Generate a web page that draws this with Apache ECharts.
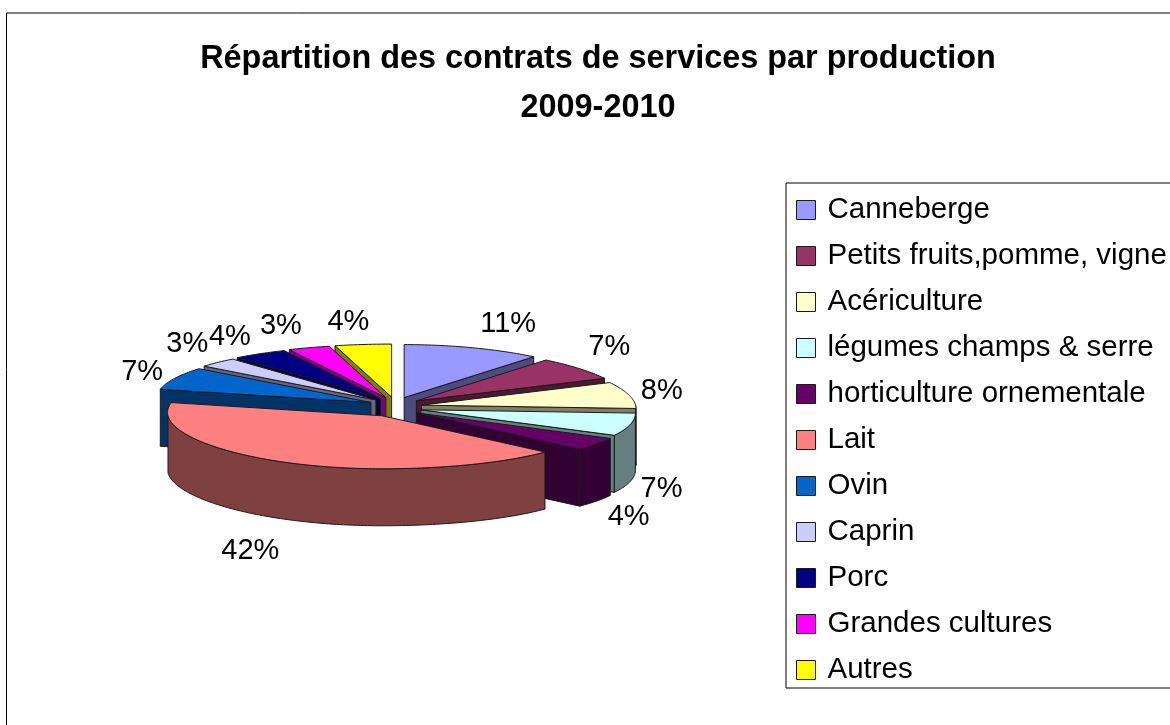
<!DOCTYPE html>
<html>
<head>
    <meta charset="UTF-8">
    <title>Répartition des contrats de services par production</title>
    <style>
        html, body { margin: 0; padding: 0; background: #fff; }
        #main { width: 1170px; height: 725px; }
    </style>
    <script src="https://cdn.jsdelivr.net/npm/echarts@6/dist/echarts.min.js"></script>
</head>
<body>
<div id="main"></div>
<script type="text/javascript">
    var titleLines = ['Répartition des contrats de services par production', '2009-2010'];
    var categories = ['Canneberge', 'Petits fruits,pomme, vigne', 'Acériculture', 'légumes champs & serre',
        'horticulture ornementale', 'Lait', 'Ovin', 'Caprin', 'Porc', 'Grandes cultures', 'Autres'];
    var percents = [11, 7, 8, 7, 4, 42, 7, 3, 4, 3, 4];
    var topColors = ['#9999FF', '#993366', '#FFFFCC', '#CCFFFF', '#660066', '#FF8080',
        '#0066CC', '#CCCCFF', '#000080', '#FF00FF', '#FFFF00'];
    var sideColors = ['#4C4C7F', '#4C1933', '#7F7F66', '#667F7F', '#330033', '#7F4040',
        '#003366', '#66667F', '#000040', '#7F007F', '#7F7F00'];

    // 饼图的几何参数
    var cx = 395, cy = 407;
    var rx = 214, ry = 53;
    var depth = 57;
    var explodeX = 27, explodeY = 10;
    var skew = 14; // 后方向左、前方向右的透视偏移
    // 标签沿半径放置，再按需要微调
    var labelRadius = 1.2;
    var labelNudge = [[17, -14], [-10, -15], [-12, -2], [-6, 61], [4, 67], [-8, 80],
        [0, -2], [-7, -11], [-13, -8], [-18, -12], [-11, -12]];

    var total = percents.reduce(function (a, b) { return a + b; }, 0);
    var starts = [];
    var sum = 0;
    percents.forEach(function (v) {
        starts.push(sum / total * 360);
        sum += v;
    });

    function rad(d) { return d * Math.PI / 180; }

    function point(ox, oy, deg) {
        var s = Math.sin(rad(deg)), c = Math.cos(rad(deg));
        return [ox + rx * s - skew * c * Math.abs(s), oy - ry * c];
    }

    function arc(ox, oy, from, to) {
        var pts = [];
        var n = Math.max(1, Math.ceil(Math.abs(to - from)));
        for (var i = 0; i <= n; i++) {
            pts.push(point(ox, oy, from + (to - from) * i / n));
        }
        return pts;
    }

    function face(points, fill) {
        return {
            type: 'polygon',
            shape: { points: points },
            style: { fill: fill, stroke: '#1a1a1a', lineWidth: 1, lineJoin: 'round' }
        };
    }

    function wall(a, b, fill) {
        return face([a, b, [b[0], b[1] + depth], [a[0], a[1] + depth]], fill);
    }

    function renderSlice(index) {
        var from = starts[index];
        var to = from + percents[index] / total * 360;
        var mid = (from + to) / 2;
        var ox = cx + explodeX * Math.sin(rad(mid));
        var oy = cy - explodeY * Math.cos(rad(mid));
        var apex = [ox, oy];
        var side = sideColors[index];
        var children = [];

        // 切面
        if (from > 180) {
            children.push(wall(apex, point(ox, oy, from), side));
        }
        if (to < 180) {
            children.push(wall(apex, point(ox, oy, to), side));
        }
        // 外弧面，只有朝前的部分可见
        var a0 = Math.max(from, 90), a1 = Math.min(to, 270);
        if (a1 > a0) {
            var upper = arc(ox, oy, a0, a1);
            var lower = arc(ox, oy + depth, a1, a0);
            children.push(face(upper.concat(lower), side));
        }
        // 顶面
        children.push(face([apex].concat(arc(ox, oy, from, to)), topColors[index]));
        // 百分比标签
        var lp = [
            ox + rx * labelRadius * Math.sin(rad(mid)) + labelNudge[index][0],
            oy - ry * labelRadius * Math.cos(rad(mid)) + labelNudge[index][1]
        ];
        children.push({
            type: 'text',
            z2: 100,
            style: {
                x: lp[0], y: lp[1],
                text: percents[index] + '%',
                fill: '#000',
                font: '29px "Liberation Sans", Arial, sans-serif',
                textAlign: 'center',
                textVerticalAlign: 'middle'
            }
        });
        return { type: 'group', children: children };
    }

    // 从后往前画
    var paintOrder = categories.map(function (c, i) {
        var mid = starts[i] + percents[i] / total * 180;
        return { index: i, y: -Math.cos(rad(mid)) };
    }).sort(function (a, b) { return a.y - b.y; });

    var series = categories.map(function (name, i) {
        var rank = 0;
        paintOrder.forEach(function (p, r) { if (p.index === i) { rank = r; } });
        return {
            name: name,
            type: 'custom',
            coordinateSystem: 'none',
            silent: true,
            z: 2 + rank,
            itemStyle: { color: topColors[i], borderColor: '#1a1a1a' },
            data: [[percents[i]]],
            renderItem: function () { return renderSlice(i); }
        };
    });

    var myChart = echarts.init(document.getElementById('main'));
    var option = {
        animation: false,
        backgroundColor: '#fff',
        title: {
            text: titleLines.join('\n'),
            left: 593,
            top: 30,
            textAlign: 'center',
            textStyle: {
                color: '#000',
                fontFamily: '"Liberation Sans", Arial, sans-serif',
                fontSize: 32.4,
                fontWeight: 'bold',
                lineHeight: 49
            }
        },
        legend: {
            orient: 'vertical',
            left: 786,
            top: 183,
            padding: [10, 30, 1, 10],
            backgroundColor: '#fff',
            borderColor: '#000',
            borderWidth: 1,
            borderRadius: 0,
            icon: 'rect',
            itemWidth: 19,
            itemHeight: 19,
            itemGap: 12,
            selectedMode: false,
            textStyle: {
                color: '#000',
                fontFamily: '"Liberation Sans", Arial, sans-serif',
                fontSize: 29.5,
                lineHeight: 32,
                padding: [2, 0, 0, 7]
            },
            data: categories.map(function (name, i) {
                return {
                    name: name,
                    itemStyle: { color: topColors[i], borderColor: '#1a1a1a', borderWidth: 1 }
                };
            })
        },
        graphic: [{
            type: 'rect',
            silent: true,
            z: 0,
            shape: { x: 6.5, y: 13, width: 1300, height: 900 },
            style: { fill: 'none', stroke: '#000', lineWidth: 1 }
        }],
        series: series
    };
    myChart.setOption(option);
</script>
</body>
</html>
